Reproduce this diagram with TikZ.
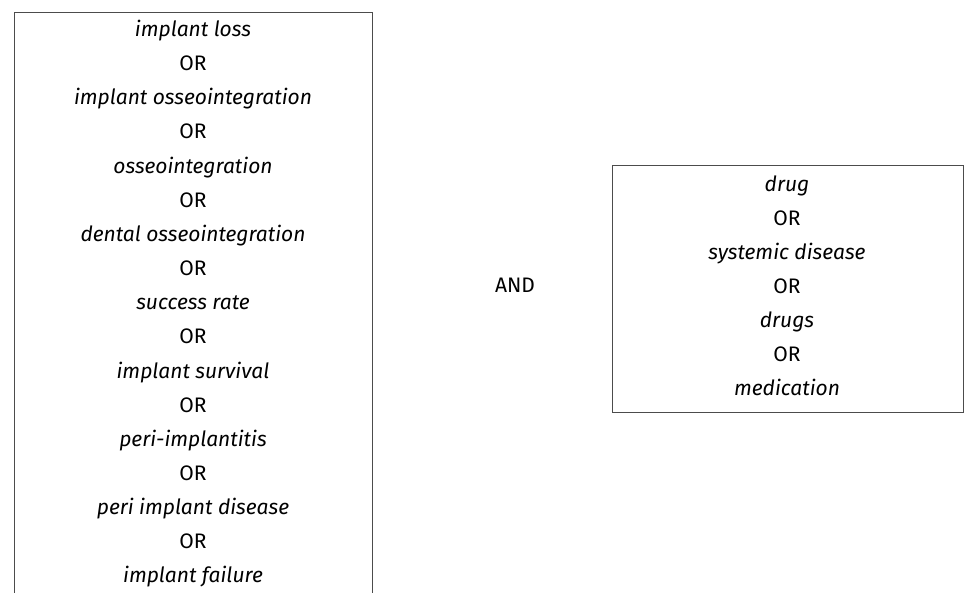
\documentclass[tikz,border=0pt]{standalone}
\usepackage{fontspec}
\setmainfont{Fira Sans}
\begin{document}
\begin{tikzpicture}[x=1pt,y=-1pt,
  boxstyle/.style={draw=black!70,line width=0.9pt,inner sep=0pt},
  txt/.style={inner sep=0pt,anchor=base,font=\fontsize{21}{25}\selectfont},
]
\useasboundingbox (0,0) rectangle (964,592);
\clip (0,0) rectangle (964,592);
\node[boxstyle,minimum width=358pt,minimum height=620pt,anchor=north west] (lbox) at (14,12) {};
\node[boxstyle,minimum width=351pt,minimum height=247pt,anchor=north west] (rbox) at (612,165) {};
\foreach \t [count=\i] in {\textit{implant loss},OR,\textit{implant osseointegration},OR,\textit{osseointegration},OR,\textit{dental osseointegration},OR,\textit{success rate},OR,\textit{implant survival},OR,\textit{peri-implantitis},OR,\textit{peri implant disease},OR,\textit{implant failure}}
  \node[txt] (l\i) at (193,{36.5+(\i-1)*34.15}) {\t};
\foreach \t [count=\i] in {\textit{drug},OR,\textit{systemic disease},OR,\textit{drugs},OR,\textit{medication}}
  \node[txt] (r\i) at (787,{191+(\i-1)*34}) {\t};
\node[txt] (and) at (515,292) {AND};
\end{tikzpicture}
\end{document}
